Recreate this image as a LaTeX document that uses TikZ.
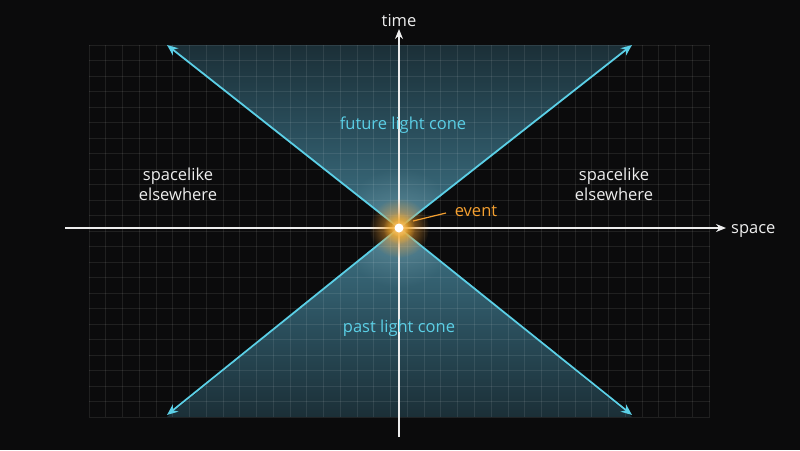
\documentclass[tikz,border=0pt]{standalone}
\usepackage{fontspec}
\setmainfont{Open Sans}
\usetikzlibrary{arrows.meta,fadings}
\definecolor{bg}{HTML}{0B0B0C}
\definecolor{conec}{HTML}{5BCFE6}
\definecolor{conetop}{HTML}{1B2F37}
\definecolor{conemid}{HTML}{2B505E}
\definecolor{conebot}{HTML}{3F7486}
\definecolor{evc}{HTML}{F5A030}
\definecolor{txtc}{HTML}{EDEDED}
\tikzfading[name=glowfade, inner color=transparent!0, outer color=transparent!100]
\tikzset{
  gridline/.style={white, opacity=0.085, line width=0.8pt},
  axis/.style={txtc, line width=1.4pt, -{Stealth[length=10pt,width=8pt]}},
  conearrow/.style={conec, line width=1.8pt, -{Stealth[length=11pt,width=9pt]}},
  lbl/.style={font=\fontsize{16.5}{20}\selectfont, text=txtc, align=center, inner sep=0pt},
  conelbl/.style={lbl, text=conec},
}
\begin{document}
\begin{tikzpicture}[x=1pt,y=-1pt]
\useasboundingbox (0,0) rectangle (800,450);
\fill[bg] (0,0) rectangle (800,450);
\coordinate (ev) at (399,228);
\coordinate (tl) at (167,45);
\coordinate (tr) at (632,45);
\coordinate (bl) at (167,415);
\coordinate (br) at (632,415);
% cone fills
\shade[top color=conetop, bottom color=conebot, middle color=conemid]
  (167,45) -- (632,45) -- (ev) -- cycle;
\shade[top color=conebot, bottom color=conetop, middle color=conemid]
  (167,417) -- (632,417) -- (ev) -- cycle;
\begin{scope}
  \clip (167,45) -- (632,45) -- (ev) -- cycle (167,417) -- (632,417) -- (ev) -- cycle;
  \fill[conebot!70!white, path fading=glowfade, opacity=0.6] (ev) circle (60);
\end{scope}
% grid
\foreach \i in {0,...,37} \draw[gridline] ({89+\i*16.7568},45) -- ({89+\i*16.7568},417);
\foreach \j in {0,...,24} \draw[gridline] (89,{45+\j*15.5}) -- (710,{45+\j*15.5});
% axes
\coordinate (xa) at (65,228);
\coordinate (xb) at (726,228);
\coordinate (ya) at (399,437);
\coordinate (yb) at (399,29);
\draw[axis] (xa) -- (xb);
\draw[axis] (ya) -- (yb);
\node[lbl, anchor=west] (space) at (731,231) {space};
\node[lbl, anchor=south] (time) at (399,27) {time};
% cone lines
\draw[conearrow] (ev) -- (tl);
\draw[conearrow] (ev) -- (tr);
\draw[conearrow] (ev) -- (bl);
\draw[conearrow] (ev) -- (br);
% labels
\node[conelbl] (fut) at (403,125) {future light cone};
\node[conelbl] (past) at (399,328) {past light cone};
\node[lbl] (sl) at (178,184) {spacelike\\elsewhere};
\node[lbl] (sr) at (614,184) {spacelike\\elsewhere};
% event
\fill[evc, path fading=glowfade, opacity=0.9] (ev) circle (30);
\fill[evc!80!yellow, path fading=glowfade] (ev) circle (16);
\fill[evc!60!white, path fading=glowfade] (ev) circle (9);
\node[circle, fill=white, minimum size=9pt, inner sep=0pt] (evdot) at (ev) {};
\node[lbl, text=evc] (evl) at (476,211) {event};
\coordinate (lb) at (446,213);
\draw[evc, line width=1.2pt] (413,221) -- (lb);
\end{tikzpicture}
\end{document}
